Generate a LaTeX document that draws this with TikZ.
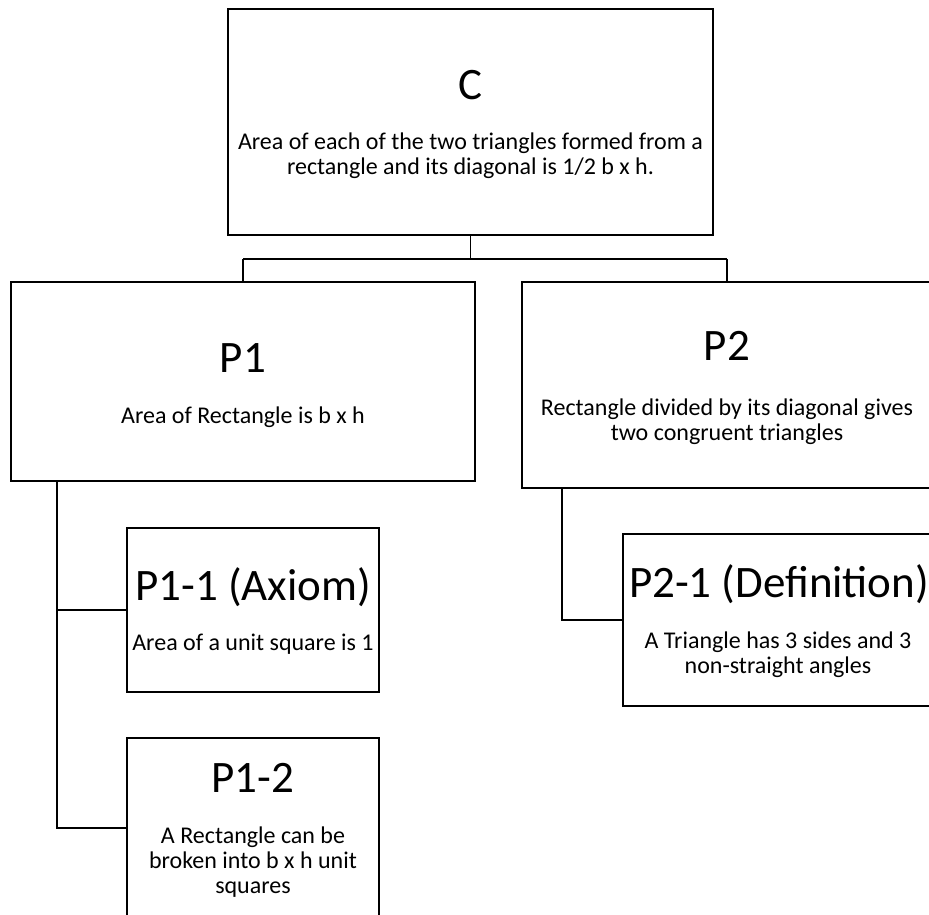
\documentclass[tikz,border=0pt]{standalone}
\usepackage{fontspec}
\setmainfont{Carlito}
\usetikzlibrary{positioning}

\begin{document}
\begin{tikzpicture}[x=1pt,y=-1pt,line width=1.8pt,
  box/.style={draw,inner sep=0pt},
  ttl/.style={font=\fontsize{45}{45}\selectfont,anchor=base,inner sep=0pt},
  bdy/.style={font=\fontsize{24}{25}\selectfont,anchor=base,align=center,inner sep=0pt}]
	\useasboundingbox (0,0) rectangle (929,915);
	\clip (0,0) rectangle (929,915);
	% boxes
	\node[box,minimum width=485,minimum height=226] (C) at (470.5,122) {};
	\node[box,minimum width=464,minimum height=199] (P1) at (243,381.5) {};
	\node[box,minimum width=410,minimum height=206] (P2) at (727,385) {};
	\node[box,minimum width=252,minimum height=164] (P11) at (253,610) {};
	\node[box,minimum width=252,minimum height=180] (P12) at (253,828) {};
	\node[box,minimum width=310,minimum height=172] (P21) at (778,620) {};
	% texts (multi-line texts sit on their last line)
	\node[ttl] at (470.5,100) {C};
	\node[bdy] at (470.5,175) {Area of each of the two triangles formed from a\\rectangle and its diagonal is 1/2 b x h.};
	\node[ttl] at (243,372) {P1};
	\node[bdy] at (243,423) {Area of Rectangle is b x h};
	\node[ttl] at (727,360) {P2};
	\node[bdy] at (727,440) {Rectangle divided by its diagonal gives\\two congruent triangles};
	\node[ttl] at (253,600) {P1-1 (Axiom)};
	\node[bdy] at (253,650) {Area of a unit square is 1};
	\node[ttl] at (253,792) {P1-2};
	\node[bdy] at (253,893) {A Rectangle can be\\broken into b x h unit\\squares};
	\node[ttl] at (779,597) {P2-1 (Definition)};
	\node[bdy] at (778,673) {A Triangle has 3 sides and 3\\non-straight angles};
	% connectors
	\draw (C.south) -- ++(0,23) coordinate (bus);
	\draw (bus -| P1.north) -- (bus -| P2.north);
	\draw (bus -| P1.north) -- (P1.north);
	\draw (bus -| P2.north) -- (P2.north);
	\draw ([xshift=-186]P1.south) coordinate (s1) |- (P11.west);
	\draw (s1) |- (P12.west);
	\draw ([xshift=-165]P2.south) |- (P21.west);
\end{tikzpicture}
\end{document}
